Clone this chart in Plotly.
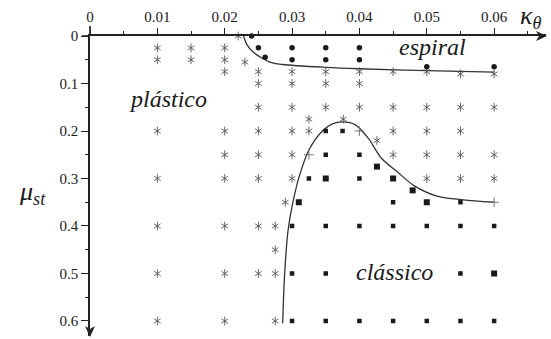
import plotly.graph_objects as go

# --- marker data: (kappa_theta, mu_st) pairs -------------------------------
# asterisks: plastic / transitional runs
ast_kappa = [
    0.022,                                              # mu 0
    0.01, 0.015, 0.02,                                  # mu 0.025
    0.01, 0.015, 0.02,                                  # mu 0.05
    0.023,                                              # mu 0.055
    0.02, 0.025, 0.03, 0.035, 0.04, 0.045, 0.05,        # mu 0.075
    0.055, 0.06,                                        # mu 0.08
    0.025, 0.03, 0.035, 0.04,                           # mu 0.1
    0.025, 0.03, 0.035, 0.04, 0.045, 0.05, 0.055, 0.06, # mu 0.15
    0.0325, 0.0376,                                     # mu 0.175
    0.01, 0.02, 0.025, 0.03, 0.0325, 0.045, 0.05, 0.055,# mu 0.2
    0.0426,                                             # mu 0.22
    0.02, 0.025, 0.03, 0.045, 0.05, 0.055, 0.06,        # mu 0.25
    0.01, 0.02, 0.025, 0.03, 0.05, 0.055, 0.06,         # mu 0.3
    0.029,                                              # mu 0.35
    0.01, 0.02, 0.025, 0.0275,                          # mu 0.4
    0.0275,                                             # mu 0.45
    0.01, 0.02, 0.025, 0.0275,                          # mu 0.5
    0.01, 0.02, 0.0275,                                 # mu 0.6
]
ast_mu = (
    [0] + [0.025] * 3 + [0.05] * 3 + [0.055] + [0.075] * 7 + [0.08] * 2
    + [0.1] * 4 + [0.15] * 8 + [0.175] * 2 + [0.2] * 8 + [0.22]
    + [0.25] * 7 + [0.3] * 7 + [0.35] + [0.4] * 4 + [0.45]
    + [0.5] * 4 + [0.6] * 3
)

# filled circles: spiral runs
dot_kappa = [0.024, 0.025, 0.03, 0.035, 0.04, 0.026, 0.03, 0.035, 0.04, 0.05, 0.06]
dot_mu = [0, 0.025, 0.025, 0.025, 0.025, 0.045, 0.05, 0.05, 0.05, 0.065, 0.065]

# squares: classical runs
sq_kappa = [
    0.035, 0.0375,
    0.035, 0.04,
    0.0325, 0.04,
    0.045, 0.055,
    0.03, 0.035, 0.04, 0.045, 0.05, 0.055, 0.06,
    0.03, 0.035, 0.055,
    0.03, 0.035, 0.04, 0.045, 0.05, 0.055, 0.06,
]
sq_mu = [0.2] * 2 + [0.25] * 2 + [0.3] * 2 + [0.35] * 2 + [0.4] * 7 + [0.5] * 3 + [0.6] * 7

sqbig_kappa = [0.0426, 0.035, 0.045, 0.0479, 0.031, 0.05, 0.06]
sqbig_mu = [0.275, 0.3, 0.3, 0.325, 0.35, 0.35, 0.5]

# plus marks on the classical boundary
plus_kappa = [0.04, 0.0325, 0.06]
plus_mu = [0.2, 0.25, 0.35]

# boundary curves
spiral_kappa = [0.0228, 0.0233, 0.0243, 0.0267, 0.0286, 0.035, 0.04, 0.05, 0.06]
spiral_mu = [0.0, 0.018, 0.035, 0.055, 0.06, 0.066, 0.069, 0.073, 0.076]

classic_kappa = [0.0286, 0.0289, 0.0294, 0.0302, 0.0311, 0.0325, 0.0345, 0.036,
                 0.0375, 0.0394, 0.0413, 0.0433, 0.0457, 0.0481, 0.0515, 0.0554, 0.06]
classic_mu = [0.605, 0.5, 0.41, 0.345, 0.294, 0.24, 0.2, 0.185,
              0.181, 0.187, 0.215, 0.258, 0.287, 0.315, 0.337, 0.345, 0.35]

x_ticks = [0, 0.01, 0.02, 0.03, 0.04, 0.05, 0.06]
x_ticktext = ["0", "0.01", "0.02", "0.03", "0.04", "0.05", "0.06"]
y_ticks = [0, 0.1, 0.2, 0.3, 0.4, 0.5, 0.6]
y_ticktext = ["0", "0.1", "0.2", "0.3", "0.4", "0.5", "0.6"]

# --- figure geometry ----------------------------------------------------------
W, H = 551, 339
L, T, R, B = 90, 36, 5, 3
PW, PH = W - L - R, H - T - B
X_MAX = 0.0677
Y_MAX = 0.6316

INK = "#1a1a1a"
AST = "#555555"
SERIF = "Liberation Serif"


def px(x):
    return (x - L) / PW


def py(y):
    return (T + PH - y) / PH


fig = go.Figure()

line_style = dict(color="#333333", width=1.3, shape="spline", smoothing=0.8)
fig.add_trace(go.Scatter(x=spiral_kappa, y=spiral_mu, mode="lines", line=line_style))
fig.add_trace(go.Scatter(x=classic_kappa, y=classic_mu, mode="lines", line=line_style))

# six-armed asterisk built from two overlaid "Y" symbols
for sym in ("y-up-open", "y-down-open"):
    fig.add_trace(go.Scatter(
        x=ast_kappa, y=ast_mu, mode="markers", cliponaxis=False,
        marker=dict(symbol=sym, size=5.5, color=AST, line=dict(width=0.9, color=AST)),
    ))

fig.add_trace(go.Scatter(
    x=plus_kappa, y=plus_mu, mode="markers", cliponaxis=False,
    marker=dict(symbol="cross-thin-open", size=7, color="#777777",
                line=dict(width=1, color="#777777")),
))
fig.add_trace(go.Scatter(
    x=dot_kappa, y=dot_mu, mode="markers", cliponaxis=False,
    marker=dict(symbol="circle", size=5.5, color=INK, line=dict(width=0)),
))
fig.add_trace(go.Scatter(
    x=sq_kappa, y=sq_mu, mode="markers", cliponaxis=False,
    marker=dict(symbol="square", size=4.5, color=INK, line=dict(width=0)),
))
fig.add_trace(go.Scatter(
    x=sqbig_kappa, y=sqbig_mu, mode="markers", cliponaxis=False,
    marker=dict(symbol="square", size=6, color=INK, line=dict(width=0)),
))

tick_font = dict(family=SERIF, size=15, color=INK)
fig.update_xaxes(
    range=[0, X_MAX], side="top", showgrid=False, zeroline=False,
    showline=True, linecolor="#222222", linewidth=1.6,
    tickmode="array", tickvals=x_ticks, ticktext=x_ticktext,
    ticks="outside", ticklen=6, tickwidth=1.3, tickcolor="#222222",
    tickfont=tick_font,
    minor=dict(dtick=0.005, tick0=0, ticks="outside", ticklen=3.5,
               tickwidth=1.3, tickcolor="#222222"),
)
fig.update_yaxes(
    range=[Y_MAX, 0], showgrid=False, zeroline=False,
    showline=True, linecolor="#222222", linewidth=1.6,
    tickmode="array", tickvals=y_ticks, ticktext=y_ticktext,
    ticks="outside", ticklen=7, tickwidth=1.3, tickcolor="#222222",
    tickfont=tick_font,
    minor=dict(dtick=0.05, tick0=0, ticks="outside", ticklen=3.5,
               tickwidth=1.3, tickcolor="#222222"),
)

axis_ext = dict(type="line", line=dict(color="#222222", width=1.6), xref="paper", yref="paper")
shapes = [
    # x axis line continues a little past the y axis
    dict(axis_ext, xsizemode="pixel", xanchor=0, x0=-8, x1=0, y0=1, y1=1),
    # y axis line continues a little above the x axis
    dict(axis_ext, ysizemode="pixel", yanchor=1, y0=0, y1=10, x0=0, x1=0),
    # arrow heads
    dict(type="path", xref="paper", yref="paper", xsizemode="pixel", ysizemode="pixel",
         xanchor=1, yanchor=1, path="M 1,0 L -10,5 L -7,0 L -10,-5 Z",
         fillcolor="#222222", line=dict(width=0)),
    dict(type="path", xref="paper", yref="paper", xsizemode="pixel", ysizemode="pixel",
         xanchor=0, yanchor=0, path="M 0,-1 L -5,10 L 0,7 L 5,10 Z",
         fillcolor="#222222", line=dict(width=0)),
]

label_font = dict(family=SERIF, size=24, color=INK)
annotations = [
    dict(text="<i>plástico</i>", x=px(168), y=py(99), font=label_font),
    dict(text="<i>espiral</i>", x=px(432), y=py(47), font=label_font),
    dict(text="<i>clássico</i>", x=px(394), y=py(272), font=label_font),
    dict(text="<i>κ</i><sub><i>θ</i></sub>", x=px(530), y=py(17),
         font=dict(family=SERIF, size=26, color=INK)),
    dict(text="<i>μ</i><sub><i>st</i></sub>", x=px(32), y=py(193),
         font=dict(family=SERIF, size=26, color=INK)),
]
for a in annotations:
    a.update(xref="paper", yref="paper", showarrow=False, xanchor="center", yanchor="middle")

fig.update_layout(
    width=W, height=H, margin=dict(l=L, r=R, t=T, b=B, pad=0),
    paper_bgcolor="white", plot_bgcolor="white",
    showlegend=False, shapes=shapes, annotations=annotations,
)

fig.write_html("out.html")
